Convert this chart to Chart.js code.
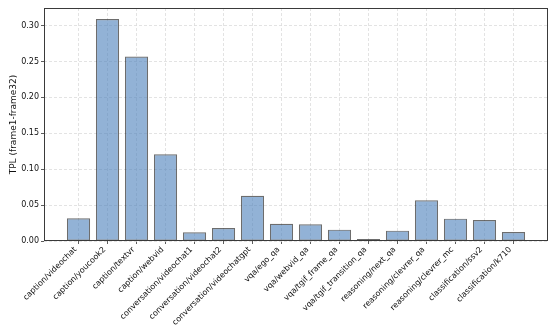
<!DOCTYPE html>
<html>
<head>
<meta charset="utf-8">
<script src="https://cdn.jsdelivr.net/npm/chart.js@4/dist/chart.umd.min.js"></script>
<style>
  html, body { margin: 0; padding: 0; background: #fff; }
  #c { display: block; }
</style>
</head>
<body>
<canvas id="c" width="556" height="334"></canvas>
<script>
// categories and TPL values
const categories = [
  "caption/videochat", "caption/youcook2", "caption/textvr", "caption/webvid",
  "conversation/videochat1", "conversation/videochat2", "conversation/videochatgpt",
  "vqa/ego_qa", "vqa/webvid_qa", "vqa/tgif_frame_qa", "vqa/tgif_transition_qa",
  "reasoning/next_qa", "reasoning/clevrer_qa", "reasoning/clevrer_mc",
  "classification/ssv2", "classification/k710"
];
const tplValues = [
  0.0316, 0.309, 0.2568, 0.1208,
  0.0121, 0.0181, 0.0631,
  0.0241, 0.0232, 0.0158, 0.0018,
  0.0144, 0.0567, 0.0311,
  0.0293, 0.0125
];
const yTicks = [0, 0.05, 0.10, 0.15, 0.20, 0.25, 0.30];

const font = { family: "DejaVu Sans", size: 8 };
const gridColor = "#dcdcdc";

// matplotlib style frame round the axes
const framePlugin = {
  id: "frame",
  afterDatasetsDraw(chart) {
    const a = chart.chartArea, ctx = chart.ctx;
    ctx.save();
    ctx.setLineDash([]);
    ctx.strokeStyle = "#3a3a3a";
    ctx.lineWidth = 1;
    ctx.strokeRect(Math.round(a.left) + 0.5, Math.round(a.top) + 0.5,
      Math.round(a.right - a.left) - 1, Math.round(a.bottom - a.top) - 1);
    ctx.restore();
  }
};

const xMin = -0.4 - 0.05 * (categories.length - 1 + 0.8);
const xMax = categories.length - 1 + 0.4 + 0.05 * (categories.length - 1 + 0.8);
const yMax = Math.max(...tplValues) * 1.05;

new Chart(document.getElementById("c"), {
  type: "bar",
  data: {
    datasets: [{
      data: tplValues.map((v, i) => ({ x: i, y: v })),
      backgroundColor: "rgba(74,126,187,0.6)",
      borderColor: "rgba(30,30,30,0.65)",
      borderWidth: 1.2,
      borderSkipped: false,
      minBarLength: 2,
      barPercentage: 0.8,
      categoryPercentage: 1
    }]
  },
  options: {
    responsive: false,
    animation: false,
    devicePixelRatio: 1,
    layout: { padding: { left: 0, right: 8, top: 8, bottom: 0 } },
    plugins: { legend: { display: false }, tooltip: { enabled: false } },
    scales: {
      x: {
        type: "linear",
        offset: false,
        min: xMin,
        max: xMax,
        afterBuildTicks(scale) {
          scale.ticks = categories.map((c, i) => ({ value: i }));
        },
        afterFit(scale) { scale.height = 93; },
        ticks: {
          autoSkip: false,
          maxRotation: 45,
          minRotation: 45,
          padding: 1,
          labelOffset: -3,
          color: "#111",
          font: font,
          callback: (v) => categories[v]
        },
        grid: {
          offset: false,
          color: gridColor,
          lineWidth: 0.8,
          borderDash: [3, 2],
          tickLength: 3,
          tickColor: "#333",
          tickBorderDash: []
        },
        border: { display: false, dash: [3, 2] }
      },
      y: {
        min: 0,
        max: yMax,
        afterBuildTicks(scale) {
          scale.ticks = yTicks.map((v) => ({ value: v }));
        },
        afterFit(scale) { scale.width = 44; },
        ticks: {
          padding: 2,
          color: "#111",
          font: font,
          callback: (v) => v.toFixed(2)
        },
        title: {
          display: true,
          text: "TPL (frame1-frame32)",
          color: "#111",
          font: { family: "DejaVu Sans", size: 9 },
          padding: { top: 8, bottom: 0 }
        },
        grid: {
          color: gridColor,
          lineWidth: 0.8,
          borderDash: [3, 2],
          tickLength: 3,
          tickColor: "#333",
          tickBorderDash: []
        },
        border: { display: false, dash: [3, 2] }
      }
    }
  },
  plugins: [framePlugin]
});
</script>
</body>
</html>
